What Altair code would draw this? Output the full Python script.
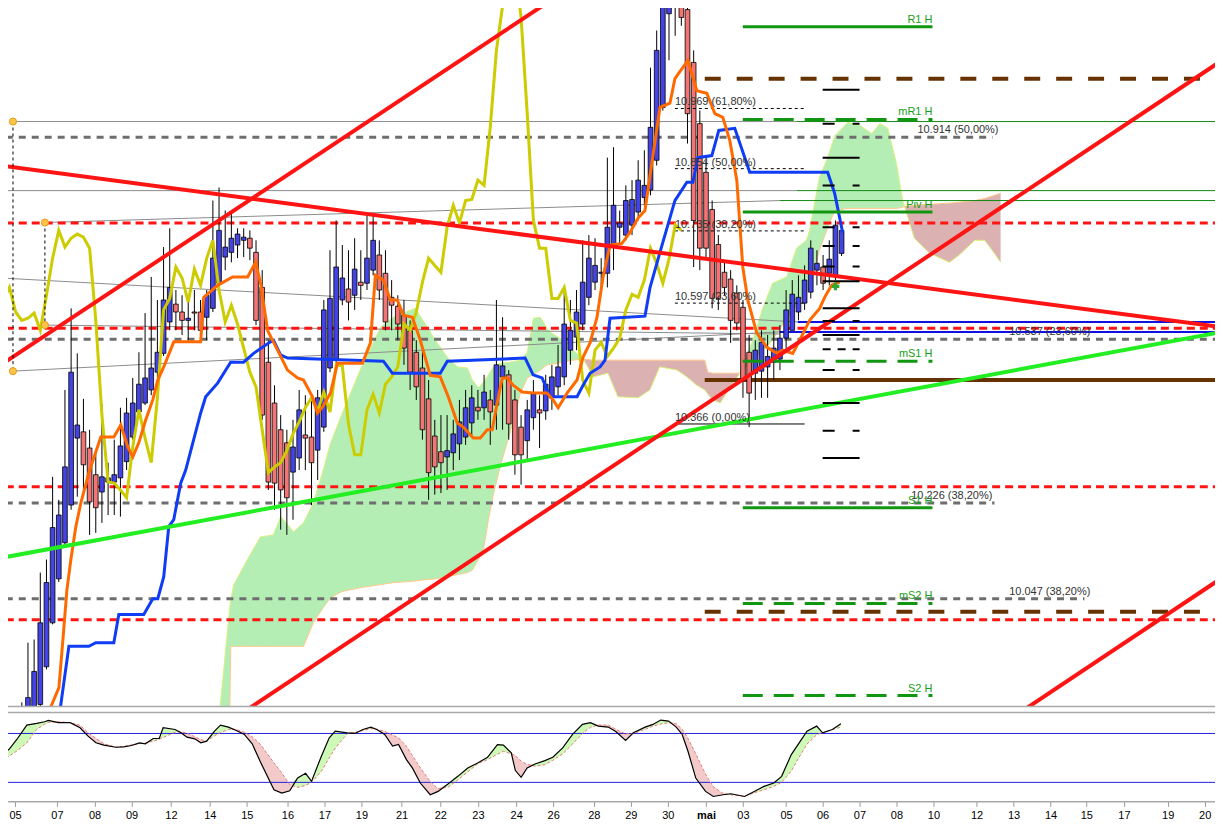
import altair as alt
import pandas as pd

# ---------------- data (prices, bar index = 4h bar) ----------------
FIRST_BAR = -4
opens = [9.649, 9.677, 9.715, 9.754,
         9.811, 9.817, 9.830, 9.902, 9.986, 10.070, 10.139, 10.211, 10.339, 10.351,
         10.320, 10.269, 10.236, 10.255, 10.255, 10.263, 10.294, 10.341, 10.389, 10.406,
         10.431, 10.465, 10.501, 10.561, 10.595, 10.580, 10.564, 10.580, 10.580, 10.570,
         10.587, 10.635, 10.685, 10.694, 10.708, 10.717, 10.721, 10.694, 10.627, 10.484,
         10.406, 10.355, 10.330, 10.274, 10.301, 10.345, 10.341, 10.316, 10.360, 10.473,
         10.488, 10.603, 10.624, 10.612, 10.637, 10.635, 10.660, 10.689, 10.654, 10.608,
         10.591, 10.574, 10.544, 10.503, 10.473, 10.414, 10.343, 10.313, 10.303, 10.311,
         10.328, 10.341, 10.368, 10.398, 10.397, 10.412, 10.402, 10.456, 10.460, 10.412,
         10.360, 10.334, 10.378, 10.393, 10.391, 10.418, 10.437, 10.456, 10.507, 10.532,
         10.557, 10.608, 10.637, 10.654, 10.654, 10.708, 10.742, 10.727, 10.746, 10.771,
         10.799, 10.813, 10.870, 10.971, 11.150, 11.195, 11.232, 11.158, 11.057, 10.940,
         10.847, 10.776, 10.709, 10.656, 10.643, 10.616, 10.589, 10.503, 10.463, 10.467,
         10.475, 10.484, 10.490, 10.530, 10.545, 10.580, 10.597, 10.618, 10.660, 10.666,
         10.654, 10.650, 10.692]
highs = [9.706, 9.735, 9.773, 9.834,
         9.948, 9.954, 10.082, 10.107, 10.265, 10.221, 10.431, 10.587, 10.501, 10.414,
         10.355, 10.316, 10.404, 10.292, 10.336, 10.397, 10.416, 10.454, 10.503, 10.578,
         10.647, 10.603, 10.704, 10.740, 10.622, 10.612, 10.603, 10.622, 10.603, 10.622,
         10.793, 10.818, 10.774, 10.769, 10.740, 10.740, 10.736, 10.717, 10.660, 10.526,
         10.440, 10.383, 10.355, 10.374, 10.431, 10.421, 10.412, 10.431, 10.603, 10.698,
         10.755, 10.708, 10.698, 10.721, 10.698, 10.769, 10.769, 10.717, 10.698, 10.641,
         10.612, 10.603, 10.564, 10.526, 10.517, 10.450, 10.374, 10.383, 10.383, 10.374,
         10.412, 10.431, 10.440, 10.431, 10.460, 10.431, 10.603, 10.570, 10.469, 10.431,
         10.383, 10.412, 10.450, 10.421, 10.460, 10.479, 10.517, 10.622, 10.603, 10.622,
         10.717, 10.727, 10.721, 10.683, 10.875, 10.895, 10.774, 10.822, 10.832, 10.870,
         10.889, 11.047, 11.118, 11.194, 11.251, 11.280, 11.270, 11.185, 11.080, 10.965,
         10.870, 10.793, 10.727, 10.675, 10.660, 10.631, 10.603, 10.536, 10.526, 10.545,
         10.536, 10.545, 10.555, 10.622, 10.641, 10.650, 10.669, 10.717, 10.698, 10.689,
         10.717, 10.755, 10.751]
lows = [9.630, 9.658, 9.696, 9.740,
        9.792, 9.811, 9.820, 9.897, 9.983, 10.064, 10.129, 10.202, 10.227, 10.227,
        10.154, 10.158, 10.177, 10.192, 10.192, 10.189, 10.278, 10.336, 10.383, 10.402,
        10.421, 10.454, 10.496, 10.545, 10.545, 10.536, 10.526, 10.545, 10.536, 10.526,
        10.580, 10.622, 10.660, 10.675, 10.683, 10.685, 10.679, 10.555, 10.374, 10.240,
        10.202, 10.164, 10.154, 10.183, 10.278, 10.278, 10.211, 10.259, 10.351, 10.465,
        10.479, 10.593, 10.564, 10.584, 10.603, 10.622, 10.650, 10.603, 10.545, 10.545,
        10.526, 10.479, 10.431, 10.412, 10.336, 10.221, 10.231, 10.234, 10.240, 10.278,
        10.297, 10.326, 10.345, 10.374, 10.374, 10.326, 10.355, 10.355, 10.336, 10.269,
        10.250, 10.294, 10.355, 10.320, 10.374, 10.393, 10.421, 10.440, 10.479, 10.507,
        10.545, 10.593, 10.622, 10.622, 10.627, 10.660, 10.708, 10.717, 10.727, 10.755,
        10.784, 10.803, 10.860, 10.965, 11.061, 11.108, 11.127, 10.902, 10.666, 10.660,
        10.679, 10.587, 10.584, 10.612, 10.521, 10.545, 10.416, 10.360, 10.412, 10.416,
        10.416, 10.450, 10.469, 10.507, 10.545, 10.564, 10.584, 10.606, 10.631, 10.622,
        10.631, 10.641, 10.687]
closes = [9.677, 9.715, 9.754, 9.811,
          9.843, 9.893, 9.986, 10.063, 10.168, 10.192, 10.284, 10.465, 10.364, 10.288,
          10.217, 10.206, 10.265, 10.263, 10.269, 10.324, 10.387, 10.406, 10.442, 10.454,
          10.473, 10.503, 10.603, 10.627, 10.580, 10.564, 10.568, 10.578, 10.545, 10.612,
          10.683, 10.736, 10.704, 10.721, 10.729, 10.723, 10.702, 10.564, 10.383, 10.255,
          10.253, 10.240, 10.225, 10.322, 10.393, 10.339, 10.292, 10.416, 10.584, 10.606,
          10.666, 10.645, 10.599, 10.662, 10.631, 10.683, 10.717, 10.622, 10.561, 10.593,
          10.557, 10.511, 10.465, 10.437, 10.355, 10.273, 10.284, 10.292, 10.315, 10.347,
          10.370, 10.397, 10.416, 10.391, 10.427, 10.389, 10.479, 10.477, 10.366, 10.307,
          10.307, 10.393, 10.423, 10.387, 10.442, 10.456, 10.475, 10.557, 10.545, 10.580,
          10.637, 10.683, 10.669, 10.656, 10.742, 10.784, 10.750, 10.793, 10.795, 10.832,
          10.822, 10.933, 11.080, 11.165, 11.204, 11.242, 11.143, 10.959, 10.755, 10.702,
          10.702, 10.606, 10.606, 10.627, 10.564, 10.559, 10.450, 10.425, 10.507, 10.522,
          10.495, 10.511, 10.530, 10.584, 10.614, 10.608, 10.641, 10.702, 10.673, 10.635,
          10.681, 10.746, 10.736]

kijun_bar = [5.18, 6.64, 9.88, 11.01, 13.93, 14.74, 18.79, 20.25, 21.06, 22.03,
             22.84, 23.65, 24.78, 25.59, 28.02, 28.83, 30.77, 32.88, 34.99, 36.61,
             39.36, 39.84, 40.98, 42.11, 57.66, 59.12, 66.89, 68.03, 80.66, 81.96,
             83.41, 84.71, 89.08, 90.06, 91.19, 92.81, 93.62, 94.43, 100.10, 100.91,
             102.53, 104.96, 106.90, 107.87, 108.68, 110.95, 112.08, 114.67, 117.10, 129.74,
             130.87, 132.17]
kijun_val = [9.817, 9.941, 9.941, 9.948, 9.948, 10.002, 10.002, 10.032, 10.032, 10.074,
             10.170, 10.183, 10.253, 10.278, 10.387, 10.418, 10.444, 10.484, 10.484, 10.501,
             10.523, 10.526, 10.498, 10.492, 10.486, 10.463, 10.463, 10.486, 10.492, 10.460,
             10.454, 10.418, 10.418, 10.440, 10.463, 10.475, 10.488, 10.568, 10.572, 10.626,
             10.694, 10.793, 10.828, 10.828, 10.875, 10.879, 10.927, 10.931, 10.847, 10.847,
             10.807, 10.732]

tenkan_bar = [3.73, 5.02, 5.67, 6.32, 6.96, 7.77, 8.58, 9.88, 11.82, 13.93, 15.06, 16.20,
              17.01, 17.98, 19.11, 20.25, 21.06, 22.03, 23.65, 28.02, 28.51, 30.77,
              33.20, 35.63, 36.93, 37.74, 38.87, 40.49, 42.11, 43.73, 44.70, 46.16,
              46.97, 47.78, 49.08, 50.21, 54.26, 55.56, 56.36, 57.66, 58.79, 59.93,
              60.90, 62.36, 63.65, 65.27, 66.89, 68.19, 69.65, 70.62, 72.24, 73.37,
              74.51, 75.32, 76.13, 76.94, 77.75, 78.72, 80.18, 81.96, 84.22, 85.20,
              86.01, 87.46, 89.08, 90.06, 91.19, 92.32, 93.30, 94.43, 96.37, 97.67,
              98.96, 100.10, 102.53, 104.15, 104.96, 107.06, 108.52, 110.14, 111.44, 112.73,
              113.86, 115.00, 115.97, 116.78, 118.23, 119.85, 121.47, 122.45, 124.07, 125.20,
              126.82, 128.44, 129.25, 130.38, 131.68]
tenkan_val = [9.826, 9.862, 9.954, 10.049, 10.107, 10.170, 10.215, 10.273, 10.341, 10.341, 10.364, 10.322,
              10.303, 10.330, 10.374, 10.412, 10.450, 10.475, 10.523, 10.523, 10.608, 10.631,
              10.647, 10.647, 10.675, 10.635, 10.545, 10.507, 10.469, 10.454, 10.450, 10.418,
              10.387, 10.398, 10.425, 10.482, 10.482, 10.521, 10.650, 10.641, 10.603, 10.603,
              10.574, 10.570, 10.526, 10.459, 10.456, 10.418, 10.368, 10.360, 10.339, 10.339,
              10.355, 10.355, 10.406, 10.454, 10.454, 10.440, 10.427, 10.425, 10.425, 10.412,
              10.397, 10.425, 10.450, 10.494, 10.521, 10.570, 10.647, 10.708, 10.711, 10.732,
              10.759, 10.774, 10.971, 10.979, 11.026, 11.061, 11.003, 10.998, 10.959, 10.952,
              10.908, 10.832, 10.666, 10.603, 10.540, 10.513, 10.501, 10.507, 10.501, 10.526,
              10.564, 10.587, 10.608, 10.631, 10.637]

cloud_bar = [30.9, 32.7, 32.9, 33.4, 35.6, 37.7, 39.8, 41.0, 43.1, 44.7,
             46.3, 47.9, 49.1, 51.0, 53.9, 57.2, 59.3, 60.9, 62.8, 64.1,
             66.1, 68.0, 69.7, 71.3, 72.1, 73.1, 73.9, 74.7, 75.5, 76.6,
             78.2, 79.9, 81.0, 82.0, 83.1, 84.2, 84.7, 86.0, 87.5, 88.4,
             90.1, 91.7, 94.1, 95.7, 99.0, 100.9, 102.5, 105.3, 106.9, 108.5,
             109.8, 110.3, 111.1, 112.3, 113.9, 115.5, 117.6, 119.2, 120.8, 123.1,
             124.7, 126.3, 126.8, 128.4, 129.7, 130.9, 133.0, 134.9, 136.9, 138.2,
             139.5, 140.9, 141.9, 142.2, 143.8, 146.3, 149.5, 151.1, 153.6, 155.2,
             156.8, 157.8]
span_a = [9.792, 10.011, 10.030, 10.059, 10.107, 10.150, 10.154, 10.189, 10.160, 10.177,
          10.215, 10.278, 10.330, 10.387, 10.469, 10.551, 10.570, 10.578, 10.587, 10.564,
          10.526, 10.494, 10.475, 10.473, 10.450, 10.435, 10.446, 10.460, 10.475, 10.482,
          10.484, 10.488, 10.503, 10.568, 10.570, 10.549, 10.542, 10.532, 10.521, 10.507,
          10.490, 10.456, 10.463, 10.418, 10.416, 10.431, 10.475, 10.469, 10.456, 10.440,
          10.431, 10.423, 10.412, 10.406, 10.435, 10.463, 10.526, 10.587, 10.635, 10.647,
          10.702, 10.717, 10.736, 10.837, 10.874, 10.917, 10.942, 10.937, 10.921, 10.940,
          10.931, 10.864, 10.793, 10.782, 10.721, 10.692, 10.675, 10.689, 10.717, 10.717,
          10.692, 10.675]
span_b = [9.782, 9.782, 9.941, 9.941, 9.941, 9.941, 9.941, 9.941, 9.941, 9.941,
          9.986, 10.015, 10.034, 10.046, 10.053, 10.059, 10.063, 10.064, 10.066, 10.068,
          10.070, 10.074, 10.078, 10.082, 10.087, 10.107, 10.126, 10.183, 10.231, 10.284,
          10.349, 10.425, 10.454, 10.460, 10.469, 10.479, 10.480, 10.482, 10.486, 10.488,
          10.490, 10.488, 10.488, 10.488, 10.488, 10.488, 10.488, 10.488, 10.488, 10.488,
          10.488, 10.465, 10.463, 10.463, 10.463, 10.463, 10.488, 10.507, 10.526, 10.568,
          10.593, 10.618, 10.626, 10.698, 10.740, 10.774, 10.778, 10.778, 10.778, 10.778,
          10.778, 10.778, 10.780, 10.782, 10.784, 10.786, 10.788, 10.790, 10.793, 10.797,
          10.803, 10.807]

# horizontal levels
red_levels = [10.750, 10.549, 10.246, 9.992]
grey_levels = [10.914, 10.528, 10.215, 10.032]
grey_level_end = [156.5, 193.7, 156.8, 171.4]
brown_dashed_levels = [11.026, 10.007]
brown_solid_levels = [10.450]

pivot_names = ["R1 H", "mR1 H", "Piv H", "mS1 H", "S1 H", "mS2 H", "S2 H"]
pivot_prices = [11.125, 10.948, 10.771, 10.486, 10.206, 10.023, 9.847]
pivot_dashed = [False, True, False, True, False, True, True]

fib_labels = ["10.969 (61,80%)", "10.854 (50,00%)", "10.735 (38,20%)", "10.597 (23,60%)", "10.366 (0,00%)"]
fib_prices = [10.969, 10.854, 10.735, 10.597, 10.366]
far_labels = ["10.914 (50,00%)", "10.537 (23,60%)", "10.226 (38,20%)", "10.047 (38,20%)"]
far_bar = [144.3, 159.2, 143.3, 159.2]
far_price = [10.914, 10.528, 10.215, 10.032]

ladder_price = [11.005, 10.940, 10.875, 10.822, 10.742, 10.706, 10.667, 10.639,
                10.587, 10.563, 10.536, 10.509, 10.469, 10.406, 10.353, 10.301]
ladder_kind = ["solid", "gap", "solid", "gap", "gap", "gap", "gap", "solid",
               "solid", "gap", "solid", "dots", "gap", "solid", "gap", "solid"]

# drawn trend lines (bar, price) -> (bar, price)
red_b0 = [-4.37, -4.37, 32.9, 160.0]
red_p0 = [10.479, 10.860, 9.799, 9.807]
red_b1 = [92.8, 193.72, 193.72, 193.72]
red_p1 = [11.238, 10.551, 11.061, 10.072]
lime_b = [-4.37, 193.72]
lime_p = [10.110, 10.542]

grey_thin = [(-2.43, 10.944, 124.72, 10.944), (-4.37, 10.812, 124.72, 10.812),
             (2.75, 10.751, 121.96, 10.793), (-4.37, 10.645, 124.88, 10.561),
             (-2.43, 10.467, 121.96, 10.542), (2.75, 10.555, 121.96, 10.538)]
green_thin = [(124.72, 10.944, 193.72, 10.944), (124.72, 10.812, 193.72, 10.812),
              (121.96, 10.793, 193.72, 10.793)]
blue_thin = [(124.88, 10.561, 193.72, 10.561), (121.96, 10.542, 193.72, 10.542)]
handle_bar = [-2.43, -2.43, 2.75, 2.75]
handle_price = [10.944, 10.467, 10.751, 10.555]

# stochastic panel
osc_bar = [-4.37, -3.09, -1.81, -0.19, 1.41, 2.69, 3.32, 4.92, 6.85, 8.45,
           9.75, 11.03, 12.31, 14.24, 15.52, 16.80, 18.09, 19.05, 20.33, 21.30,
           21.93, 23.86, 24.83, 25.79, 27.07, 28.04, 28.99, 30.27, 31.24, 32.52,
           33.80, 35.10, 36.38, 37.66, 39.91, 41.19, 42.47, 43.75, 45.04, 46.00,
           47.60, 48.88, 49.85, 51.78, 53.06, 54.34, 55.62, 56.59, 57.87, 59.15,
           60.12, 61.40, 62.36, 63.65, 65.26, 66.54, 68.14, 69.74, 71.35, 72.95,
           74.56, 76.16, 77.13, 78.41, 79.06, 80.01, 80.99, 82.26, 83.87, 85.15,
           86.75, 88.35, 89.96, 91.24, 92.53, 94.14, 95.42, 96.96, 98.22, 100.13,
           101.39, 102.66, 103.92, 105.18, 106.14, 107.08, 108.34, 109.93, 111.19, 112.78,
           114.04, 116.26, 117.83, 119.42, 121.01, 122.27, 123.84, 125.12, 126.39, 127.96,
           128.92, 130.50, 131.89]
stoch_k = [54.9, 60.3, 72.6, 90.3, 92.3, 94.4, 96.0, 93.2, 93.2, 87.0,
           76.7, 68.5, 65.6, 63.1, 63.6, 65.2, 68.5, 67.3, 73.8, 73.8,
           87.0, 84.9, 80.8, 75.5, 73.4, 68.5, 70.5, 82.9, 90.3, 87.8,
           83.7, 78.8, 67.3, 45.9, 11.0, 6.8, 9.7, 25.3, 31.1, 21.2,
           52.1, 74.7, 82.9, 80.8, 80.0, 84.9, 87.8, 84.9, 78.8, 64.4,
           66.4, 47.9, 37.7, 19.2, 4.8, 8.9, 17.9, 27.4, 37.7, 43.8,
           50.8, 66.4, 65.6, 56.2, 34.8, 26.2, 37.7, 42.6, 46.7, 50.8,
           62.3, 78.8, 91.1, 93.2, 89.0, 87.8, 82.1, 71.4, 80.8, 87.8,
           91.1, 96.4, 95.2, 87.8, 78.8, 58.2, 25.3, 8.9, 2.7, 4.8,
           6.0, 2.7, 8.9, 15.1, 19.2, 27.4, 54.1, 68.5, 82.9, 89.0,
           80.8, 84.9, 91.9]
stoch_d = [49.2, 52.0, 58.5, 68.5, 84.9, 91.5, 93.5, 94.4, 93.2, 90.0,
           81.0, 73.8, 67.5, 63.1, 64.0, 66.0, 67.5, 68.3, 70.5, 73.0,
           75.0, 81.5, 82.0, 80.4, 76.0, 72.5, 70.5, 77.0, 81.0, 84.9,
           84.9, 81.5, 76.0, 67.0, 44.0, 31.5, 17.1, 13.8, 16.3, 20.0,
           33.6, 50.0, 62.0, 79.5, 81.5, 83.5, 86.0, 85.2, 82.5, 78.0,
           74.7, 64.4, 53.0, 38.0, 21.0, 12.2, 14.0, 23.0, 33.0, 42.6,
           48.0, 54.5, 58.2, 55.0, 53.0, 46.0, 42.0, 39.8, 41.8, 47.0,
           55.0, 67.0, 80.0, 87.5, 90.3, 90.3, 84.9, 79.5, 80.0, 85.0,
           89.0, 91.5, 93.2, 91.9, 85.0, 74.0, 55.0, 30.0, 14.5, 6.3,
           4.8, 3.0, 7.2, 11.0, 15.1, 20.0, 34.0, 51.0, 67.0, 78.5,
           80.8, 84.9, 87.8]
osc_levels = [80, 20]

tick_pos = [-2.1, 4.7, 10.8, 16.8, 23.2, 29.5, 35.5, 42.1, 48.1, 54.1, 60.6, 66.9, 73.0, 79.2,
            85.2, 91.8, 97.8, 103.8, 110.0, 116.0, 123.0, 128.9, 134.9, 140.9, 146.9, 153.9,
            159.9, 165.9, 171.7, 177.8, 184.9, 190.9]
tick_text = ["05", "07", "08", "09", "12", "14", "15", "16", "17", "19", "21", "22", "23", "24",
             "26", "28", "29", "30", "mai", "03", "05", "06", "07", "08", "10", "12",
             "13", "14", "15", "17", "19", "20"]

# ---------------- layout / style ----------------
W, H_MAIN, H_OSC = 1223, 707, 89
X_LEFT, X_RIGHT = -4.373, 193.715
LEVEL_START = -3.6
BROWN_START = 109.8
PIVOT_START, PIVOT_END = 115.97, 146.74
FIB_START, FIB_END = 104.96, 126.0
LADDER_START, LADDER_END = 128.93, 134.92
FONT = "Liberation Sans"

xs = alt.Scale(domain=[X_LEFT, X_RIGHT], nice=False, zero=False)
ys = alt.Scale(domain=[9.826, 11.175], nice=False, zero=False)
os_ = alt.Scale(domain=[-3.3, 105.7], nice=False, zero=False)


def seg_df(rows):
    return pd.DataFrame(rows, columns=["b0", "p0", "b1", "p1"])


def hlines(prices, start, end):
    return pd.DataFrame({"b0": start, "b1": end, "p0": prices, "p1": prices})


def rules(df, **mark):
    return alt.Chart(df).mark_rule(clip=True, **mark).encode(
        x=alt.X("b0:Q", scale=xs, axis=None), x2="b1:Q",
        y=alt.Y("p0:Q", scale=ys, axis=None), y2="p1:Q")


def pline(bars, vals, **mark):
    df = pd.DataFrame({"b": bars, "p": vals})
    return alt.Chart(df).mark_line(clip=True, **mark).encode(
        x=alt.X("b:Q", scale=xs, axis=None), y=alt.Y("p:Q", scale=ys, axis=None))


def labels(bars, prices, texts, **mark):
    df = pd.DataFrame({"b": bars, "p": prices, "t": texts})
    return alt.Chart(df).mark_text(font=FONT, fontSize=11, baseline="bottom", **mark).encode(
        x=alt.X("b:Q", scale=xs, axis=None), y=alt.Y("p:Q", scale=ys, axis=None), text="t:N")


# candles
bars = pd.DataFrame({"b": list(range(FIRST_BAR, FIRST_BAR + len(closes))),
                     "o": opens, "h": highs, "l": lows, "c": closes})
wicks = alt.Chart(bars).mark_rule(color="black", strokeWidth=1, clip=True).encode(
    x=alt.X("b:Q", scale=xs, axis=None), y=alt.Y("l:Q", scale=ys, axis=None), y2="h:Q")
bodies = alt.Chart(bars).transform_calculate(
    x0="datum.b - 0.38", x1="datum.b + 0.38"
).mark_rect(stroke="black", strokeWidth=0.8, clip=True).encode(
    x=alt.X("x0:Q", scale=xs, axis=None), x2="x1:Q",
    y=alt.Y("o:Q", scale=ys, axis=None), y2="c:Q",
    color=alt.condition("datum.c >= datum.o", alt.value("#4343e6"), alt.value("#f27474")))

# chikou = closes drawn 26 bars back
chikou = pline([b - 26 for b in bars.b], closes, color="#cccc00", strokeWidth=3)

# cloud, split where span A and B cross
rows, seg = [], 0
for i, (b, a, s) in enumerate(zip(cloud_bar, span_a, span_b)):
    rows.append({"seg": seg, "b": b, "a": a, "s": s})
    if i > 0 and abs(a - s) < 1e-9:
        seg += 1
        rows.append({"seg": seg, "b": b, "a": a, "s": s})
cloud = pd.DataFrame(rows)
cloud["diff"] = cloud.a - cloud.s
kind = cloud.groupby("seg")["diff"].sum().gt(0).map({True: "up", False: "down"})
cloud["kind"] = cloud.seg.map(kind)
cloud_area = alt.Chart(cloud).mark_area(clip=True).encode(
    x=alt.X("b:Q", scale=xs, axis=None),
    y=alt.Y("a:Q", scale=ys, axis=None, stack=None), y2="s:Q",
    color=alt.Color("kind:N", scale=alt.Scale(domain=["up", "down"], range=["#b5eeb5", "#dcb1b1"]),
                    legend=None),
    detail="seg:N")
edge_a = pline(cloud_bar, span_a, color="#d9f27a", strokeWidth=1)
edge_b = pline(cloud_bar, span_b, color="#ffc98a", strokeWidth=1)

# levels and drawings
red_lv = rules(hlines(red_levels, LEVEL_START, X_RIGHT), color="#ff1414", strokeWidth=3, strokeDash=[8, 5])
grey_lv = rules(hlines(grey_levels, LEVEL_START, grey_level_end), color="#6e6e6e", strokeWidth=3,
                strokeDash=[7, 6])
brown_d = rules(hlines(brown_dashed_levels, BROWN_START, X_RIGHT), color="#663300", strokeWidth=4,
                strokeDash=[16, 16])
brown_s = rules(hlines(brown_solid_levels, BROWN_START, X_RIGHT), color="#663300", strokeWidth=4)
thin_grey = rules(seg_df(grey_thin), color="#8c8c8c", strokeWidth=1)
thin_green = rules(seg_df(green_thin), color="#118811", strokeWidth=1)
thin_blue = rules(seg_df(blue_thin), color="#1010e0", strokeWidth=2)

fib_df = hlines(fib_prices, FIB_START, FIB_END)
fib_dash = rules(fib_df.iloc[:-1], color="black", strokeWidth=1, strokeDash=[3, 3])
fib_solid = rules(fib_df.iloc[-1:], color="black", strokeWidth=1)
fib_text = labels([FIB_START] * len(fib_prices), fib_prices, fib_labels, align="left", dy=-1,
                  color="#333333")
far_text = labels(far_bar, far_price, far_labels, align="left", dy=-2, color="#333333")

kijun = pline(kijun_bar, kijun_val, color="#0f3cf5", strokeWidth=3)
tenkan = pline(tenkan_bar, tenkan_val, color="#ff6a00", strokeWidth=3)

red_tl = rules(pd.DataFrame({"b0": red_b0, "p0": red_p0, "b1": red_b1, "p1": red_p1}),
               color="#ff1414", strokeWidth=4)
lime_tl = rules(seg_df([(lime_b[0], lime_p[0], lime_b[1], lime_p[1])]), color="#22ee22", strokeWidth=4)

piv = pd.DataFrame({"p0": pivot_prices, "p1": pivot_prices, "dash": pivot_dashed})
piv["b0"], piv["b1"] = PIVOT_START, PIVOT_END
piv_solid = rules(piv[~piv.dash], color="#119611", strokeWidth=3)
piv_dash = rules(piv[piv.dash], color="#119611", strokeWidth=3, strokeDash=[20, 11])
piv_text = labels([PIVOT_END] * len(pivot_prices), pivot_prices, pivot_names, align="right", dy=-2,
                  color="#16a016")

lad = pd.DataFrame({"p0": ladder_price, "p1": ladder_price, "kind": ladder_kind})
lad["b0"], lad["b1"] = LADDER_START, LADDER_END
lad_solid = rules(lad[lad.kind == "solid"], color="black", strokeWidth=2)
lad_gap = rules(lad[lad.kind == "gap"], color="black", strokeWidth=2, strokeDash=[12, 18])
lad_dots = rules(lad[lad.kind == "dots"], color="black", strokeWidth=2, strokeDash=[8, 7])

hv = seg_df([(handle_bar[0], handle_price[0], handle_bar[1], handle_price[1]),
             (handle_bar[2], handle_price[2], handle_bar[3], handle_price[3])])
handle_lines = rules(hv, color="black", strokeWidth=1, strokeDash=[3, 3])
handle_dots = alt.Chart(pd.DataFrame({"b": handle_bar, "p": handle_price})).mark_point(
    shape="circle", filled=True, fill="#ffc54a", stroke="#e39b14", strokeWidth=1, size=50, opacity=1
).encode(x=alt.X("b:Q", scale=xs, axis=None), y=alt.Y("p:Q", scale=ys, axis=None))
marker = alt.Chart(pd.DataFrame({"b": [131.0], "p": [10.629]})).mark_point(
    shape="cross", filled=True, color="#2fa82f", size=60, opacity=1
).encode(x=alt.X("b:Q", scale=xs, axis=None), y=alt.Y("p:Q", scale=ys, axis=None))

border = alt.Chart(pd.DataFrame({"z": [0]})).mark_rule(color="#a8a8a8", strokeWidth=1.5).encode(
    x=alt.value(0), x2=alt.value(W), y=alt.value(H_MAIN))

main = alt.layer(
    cloud_area, edge_a, edge_b,
    thin_grey, thin_green, thin_blue,
    grey_lv, red_lv, brown_d, brown_s,
    wicks, bodies,
    fib_dash, fib_solid,
    chikou, kijun, tenkan,
    lime_tl, red_tl,
    piv_solid, piv_dash,
    lad_solid, lad_gap, lad_dots,
    handle_lines, handle_dots, marker,
    fib_text, far_text, piv_text,
    border,
).properties(width=W, height=H_MAIN)

# ---------------- stochastic panel ----------------
osc = pd.DataFrame({"b": osc_bar, "k": stoch_k, "d": stoch_d})
osc_axis = alt.Axis(
    values=tick_pos,
    labelExpr=f"{tick_text}[indexof({tick_pos}, datum.value)]",
    labelFont=FONT, labelFontSize=11, labelColor="black", labelPadding=3,
    labelFontWeight={"condition": {"test": "datum.value == 110", "value": "bold"}, "value": "normal"},
    labelFlush=False, labelOverlap=False, grid=False, title=None,
    tickColor="#9a9a9a", tickSize=5, domainColor="#a8a8a8", domainWidth=1.5)
ox = alt.X("b:Q", scale=xs, axis=osc_axis)
base = alt.Chart(osc).transform_calculate(hi="max(datum.k, datum.d)")
osc_up = base.mark_area(color="#cdfab6", clip=True).encode(
    x=ox, y=alt.Y("hi:Q", scale=os_, axis=None, stack=None), y2="d:Q")
osc_dn = base.mark_area(color="#f3caca", clip=True).encode(
    x=ox, y=alt.Y("hi:Q", scale=os_, axis=None, stack=None), y2="k:Q")
osc_lv = alt.Chart(pd.DataFrame({"v": osc_levels})).mark_rule(color="#2020e0", strokeWidth=1).encode(
    y=alt.Y("v:Q", scale=os_, axis=None))
osc_d = base.mark_line(color="#e87a7a", strokeWidth=1, strokeDash=[3, 2], clip=True).encode(
    x=ox, y=alt.Y("d:Q", scale=os_, axis=None))
osc_k = base.mark_line(color="black", strokeWidth=1.2, clip=True).encode(
    x=ox, y=alt.Y("k:Q", scale=os_, axis=None))
osc_top = alt.Chart(pd.DataFrame({"z": [0]})).mark_rule(color="#a8a8a8", strokeWidth=1.5).encode(
    x=alt.value(0), x2=alt.value(W), y=alt.value(0))

lower = alt.layer(osc_up, osc_dn, osc_lv, osc_d, osc_k, osc_top).properties(width=W, height=H_OSC)

# the page keeps an 8px body margin; pull the drawing into it so the plot fills the window
chart = alt.vconcat(main, lower, spacing=4).properties(
    padding={"left": -8, "top": -8, "right": -8, "bottom": 0}
).configure_view(stroke=None)

chart.save("out.html", embed_options={"renderer": "svg", "actions": False})
